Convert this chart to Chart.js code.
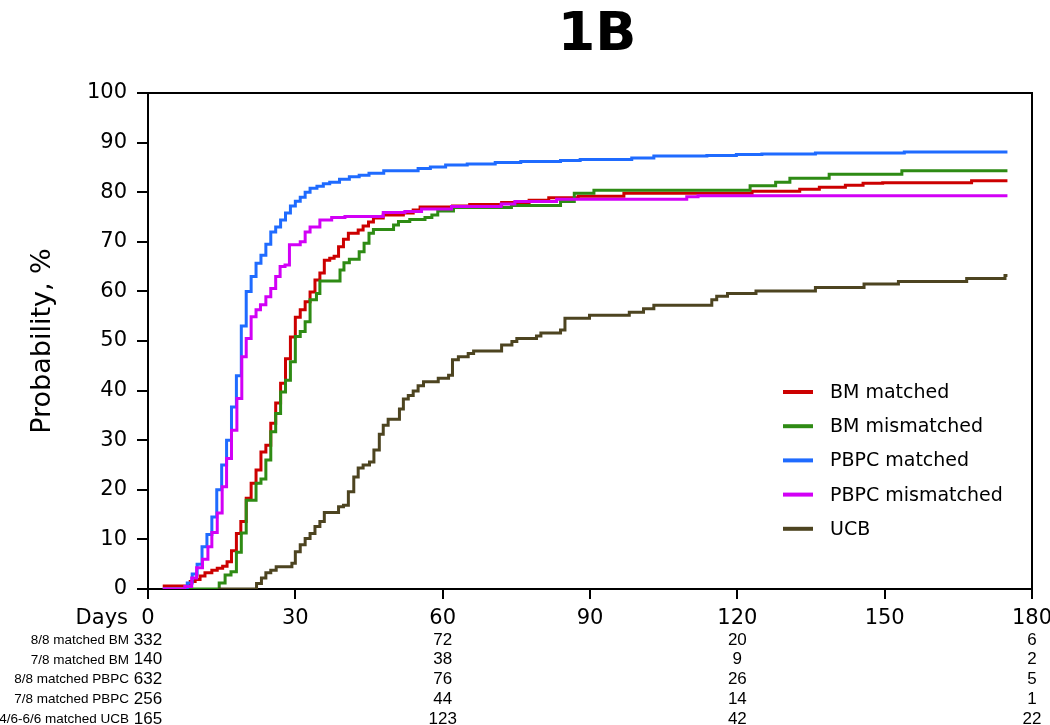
<!DOCTYPE html>
<html><head><meta charset="utf-8"><title>1B</title>
<script src="https://cdn.jsdelivr.net/npm/chart.js@4.4.1/dist/chart.umd.min.js"></script>
<style>html,body{margin:0;padding:0;background:#fff;overflow:hidden}canvas{display:block}</style>
</head><body>
<canvas id="chart" width="1050" height="725"></canvas>
<script>
// ---- data ----
const chartTitle = '1B';
const yAxisTitle = 'Probability, %';
const xTicks = [0, 30, 60, 90, 120, 150, 180];
const yTicks = [0, 10, 20, 30, 40, 50, 60, 70, 80, 90, 100];
const seriesNames = ['BM matched', 'BM mismatched', 'PBPC matched', 'PBPC mismatched', 'UCB'];

const bmMatchedDays = [3, 8.6, 9.6, 10.6, 11.6, 13, 14.1, 15.2, 16.1, 17, 18, 18.9, 20, 21, 22, 23, 24, 25, 26, 27, 28, 29, 30, 31, 32, 33, 34, 35, 35.9, 37, 37.9, 38.8, 39.8, 40.8, 42.8, 43.8, 44.9, 45.9, 47.9, 52, 54, 55.4, 62, 65.5, 72, 77.6, 81.6, 87.6, 96.9, 123, 132.7, 136.7, 142, 145.6, 149.6, 167.7, 175];
const bmMatchedPct  = [0.6, 1.5, 1.9, 2.6, 3.3, 3.8, 4.2, 4.6, 5.5, 7.7, 11.2, 13.6, 18.3, 21.3, 24, 27.6, 29, 33.4, 37.5, 41.5, 46.4, 50.8, 54.8, 56.3, 57.9, 59.9, 62.3, 63.7, 66.3, 66.7, 67.1, 69, 70.5, 71.7, 72.4, 73.2, 74, 74.8, 75.4, 75.8, 76.4, 77, 77.2, 77.5, 77.9, 78.4, 78.9, 79.2, 79.8, 80.2, 80.6, 81, 81.4, 81.8, 81.9, 82.3, 82.3];

const bmMismatchedDays = [7.5, 14.5, 15.7, 16.9, 18, 19, 20, 22, 23, 24, 25, 26, 27, 28, 29, 30, 31, 32, 33, 34.3, 35, 39.1, 39.9, 41, 43, 44, 45, 45.9, 50, 51, 53.3, 56.4, 57.8, 59, 62.2, 74, 84, 86.8, 90.8, 122.6, 127.8, 130.7, 138.7, 153.5, 175];
const bmMismatchedPct  = [0, 1.2, 2.8, 3.5, 7.4, 11.3, 17.9, 21.3, 22.2, 26, 31.7, 35.4, 39.7, 42.1, 45.8, 50.9, 51.9, 53.9, 58.3, 59.6, 62.1, 64.3, 65.8, 66.5, 68, 69.7, 71.7, 72.5, 73.4, 74.1, 74.5, 74.9, 75.4, 76.2, 76.9, 77.3, 78.1, 79.8, 80.4, 81.3, 82, 82.8, 83.6, 84.3, 84.3];

const pbpcMatchedDays = [3, 8, 9, 10, 11, 12, 13, 14, 15, 16, 17, 18, 19, 20, 21, 22, 23, 24, 25, 26, 27, 28, 29, 30, 31, 32, 33, 34.4, 35.7, 37, 39, 41, 43, 45, 48, 55, 57.5, 60.6, 65, 70.7, 75.9, 84, 88, 98.5, 103, 113.8, 119.8, 125, 135.9, 154, 175];
const pbpcMatchedPct  = [0, 1.2, 3, 5, 8.5, 11, 14.5, 20, 25, 30, 36.7, 43, 53, 60, 63, 65.7, 67.3, 69.5, 72, 73, 74.4, 75.8, 77.2, 78.2, 79, 80, 80.8, 81.2, 81.7, 82, 82.6, 83.1, 83.4, 83.8, 84.3, 84.8, 85.1, 85.5, 85.7, 86, 86.2, 86.4, 86.6, 86.9, 87.3, 87.4, 87.6, 87.7, 87.9, 88.1, 88.1];

const pbpcMismatchedDays = [3, 7.5, 8.9, 9.9, 11.1, 12.2, 13, 14.1, 15.1, 16, 17, 18.1, 19.1, 20, 21, 22, 22.9, 24, 25, 26, 26.9, 27.9, 28.8, 31, 32, 33, 35, 37.4, 40.1, 47.9, 52.3, 55.7, 61.8, 71.9, 74.7, 83.2, 109.7, 112, 175];
const pbpcMismatchedPct  = [0, 0.5, 2.2, 4.3, 6, 8.5, 11.4, 15.3, 20.6, 26.3, 32, 38.4, 46.8, 50.5, 54.9, 56.3, 57.3, 58.9, 60.6, 63, 65, 65.3, 69.4, 70, 72, 73, 74.4, 74.9, 75.1, 75.9, 76.1, 76.6, 77.1, 77.6, 78.1, 78.6, 79.1, 79.3, 79.3];

const ucbDays = [14.3, 22.1, 23.1, 24, 25, 26.1, 29.3, 30, 31, 32, 33, 34, 35, 35.9, 38.8, 39.8, 40.8, 41.9, 42.8, 43.8, 45.1, 46, 47.1, 47.9, 48.9, 51.2, 52, 53, 54, 55, 56.1, 59.1, 61.2, 62, 63.2, 65.2, 66.3, 72, 74.1, 75.1, 79.1, 80, 84, 84.9, 89.9, 98, 100.9, 103, 114.8, 115.8, 118, 123.8, 135.9, 145.8, 152.8, 166.7, 174.5, 175];
const ucbPct  = [0, 1.1, 2.2, 3.3, 3.8, 4.5, 5.2, 7.5, 8.9, 10.2, 11.2, 12.6, 13.6, 15.4, 16.6, 16.9, 19.6, 22.6, 24.4, 25, 25.6, 28, 31.2, 33, 34.2, 36.3, 38.3, 39, 39.9, 41, 41.8, 42.5, 43.1, 46.2, 46.8, 47.5, 48, 49.2, 49.9, 50.5, 51, 51.6, 52.2, 54.6, 55.2, 55.8, 56.5, 57.2, 58.3, 59, 59.6, 60.1, 60.8, 61.5, 62, 62.6, 63.2, 63.2];

// numbers at risk
const riskHeader = 'Days';
const riskTimes = [0, 60, 120, 180];
const riskRowLabels = ['8/8 matched BM', '7/8 matched BM', '8/8 matched PBPC', '7/8 matched PBPC', '4/6-6/6 matched UCB'];
const riskBmMatched = [332, 72, 20, 6];
const riskBmMismatched = [140, 38, 9, 2];
const riskPbpcMatched = [632, 76, 26, 5];
const riskPbpcMismatched = [256, 44, 14, 1];
const riskUcb = [165, 123, 42, 22];

// ---- styles ----
const seriesColors = ['#cc0000', '#2e8b14', '#1f6bff', '#d200f6', '#4d4420'];
const FONT = "'DejaVu Sans', Verdana, sans-serif";
const TABLE_FONT = "'Liberation Sans', Arial, sans-serif";
Chart.defaults.font.family = FONT;
Chart.defaults.color = '#000';

const seriesDays = [bmMatchedDays, bmMismatchedDays, pbpcMatchedDays, pbpcMismatchedDays, ucbDays];
const seriesPct = [bmMatchedPct, bmMismatchedPct, pbpcMatchedPct, pbpcMismatchedPct, ucbPct];
const riskRows = [riskBmMatched, riskBmMismatched, riskPbpcMatched, riskPbpcMismatched, riskUcb];

const datasets = seriesNames.map((name, i) => ({
  label: name,
  data: seriesDays[i].map((d, k) => ({ x: d, y: seriesPct[i][k] })),
  borderColor: seriesColors[i],
  backgroundColor: seriesColors[i],
  borderWidth: 3,
  pointRadius: 0,
  pointHoverRadius: 0,
  stepped: 'before',
  fill: false,
  order: seriesNames.length - i,
  borderJoinStyle: 'miter',
  borderCapStyle: 'butt'
}));

function zeroPad(s) { s.paddingLeft = 0; s.paddingRight = 0; s.paddingTop = 0; s.paddingBottom = 0; }

const framePlugin = {
  id: 'frame',
  afterLayout(chart) {
    // centre the title a little right of the plot centre, as in the reference
    if (chart.titleBlock) { chart.titleBlock.left += 7; chart.titleBlock.right += 7; }
  },
  beforeDatasetsDraw(chart) {
    const { ctx, chartArea: a } = chart;
    ctx.save();
    ctx.strokeStyle = '#000';
    ctx.lineWidth = 2;
    ctx.beginPath();
    ctx.moveTo(a.left, a.top);
    ctx.lineTo(a.right, a.top);
    ctx.lineTo(a.right, a.bottom);
    ctx.stroke();
    ctx.restore();
  }
};

const extrasPlugin = {
  id: 'extras',
  afterDraw(chart) {
    const { ctx, chartArea: a } = chart;
    const xs = chart.scales.x;
    ctx.save();
    ctx.fillStyle = '#000';
    // "Days" header in line with the x tick labels
    ctx.font = `21px ${FONT}`;
    ctx.textAlign = 'right';
    ctx.textBaseline = 'middle';
    ctx.fillText(riskHeader, a.left - 20, a.bottom + 30);
    // numbers at risk
    riskRows.forEach((row, r) => {
      const y = a.bottom + 51 + r * 19.8;
      ctx.font = `13.5px ${TABLE_FONT}`;
      ctx.textAlign = 'right';
      ctx.fillText(riskRowLabels[r], a.left - 19, y);
      ctx.font = `17px ${TABLE_FONT}`;
      ctx.textAlign = 'center';
      riskTimes.forEach((t, k) => ctx.fillText(String(row[k]), xs.getPixelForValue(t), y));
    });
    // legend inside the plot
    chart.data.datasets.forEach((ds, i) => {
      const y = 392 + i * 34.2;
      ctx.strokeStyle = ds.borderColor;
      ctx.lineWidth = 4;
      ctx.beginPath();
      ctx.moveTo(783, y);
      ctx.lineTo(813, y);
      ctx.stroke();
      ctx.font = `19px ${FONT}`;
      ctx.textAlign = 'left';
      ctx.textBaseline = 'middle';
      ctx.fillText(ds.label, 830, y + 1);
    });
    ctx.restore();
  }
};

new Chart(document.getElementById('chart'), {
  type: 'line',
  data: { datasets },
  plugins: [framePlugin, extrasPlugin],
  options: {
    responsive: false,
    animation: false,
    devicePixelRatio: 1,
    layout: { padding: { left: 0, right: 18, top: 0, bottom: 0 } },
    plugins: {
      legend: { display: false },
      tooltip: { enabled: false },
      title: {
        display: true,
        text: chartTitle,
        fullSize: false,
        color: '#000',
        font: { family: FONT, size: 54, weight: 'bold' },
        padding: { top: 4, bottom: 24.2 }
      }
    },
    scales: {
      x: {
        type: 'linear',
        min: 0, max: 180,
        afterBuildTicks(s) { s.ticks = xTicks.map(v => ({ value: v })); },
        afterFit(s) { s.height = 136; zeroPad(s); },
        ticks: { color: '#000', font: { family: FONT, size: 21 }, padding: 7, maxRotation: 0, autoSkip: false },
        grid: { drawOnChartArea: false, drawTicks: true, tickLength: 10, color: '#000', lineWidth: 2 },
        border: { display: true, color: '#000', width: 2 }
      },
      y: {
        type: 'linear',
        min: 0, max: 100,
        afterBuildTicks(s) { s.ticks = yTicks.map(v => ({ value: v })); },
        afterFit(s) { s.width = 148; zeroPad(s); },
        ticks: { color: '#000', font: { family: FONT, size: 21 }, padding: 10, autoSkip: false },
        grid: { drawOnChartArea: false, drawTicks: true, tickLength: 11, color: '#000', lineWidth: 2 },
        border: { display: true, color: '#000', width: 2 },
        title: { display: true, text: yAxisTitle, color: '#000', font: { family: FONT, size: 27 }, padding: { top: 27, bottom: 0 } }
      }
    }
  }
});
</script>
</body></html>
